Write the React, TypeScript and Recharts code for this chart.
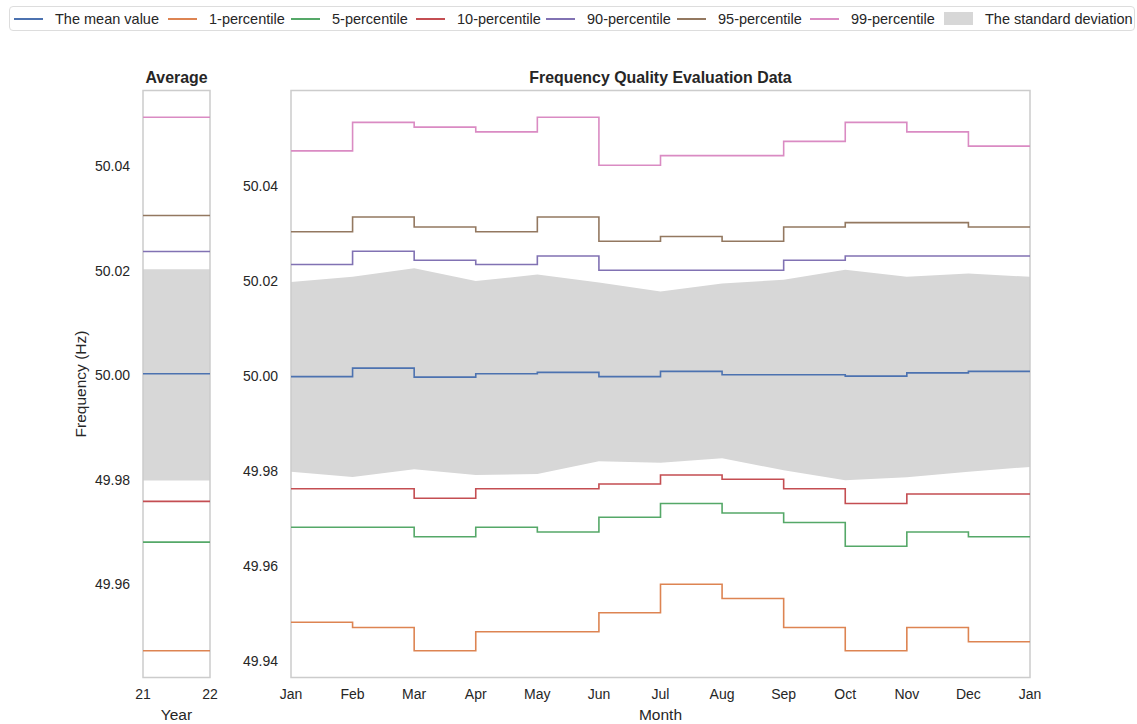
import React from 'react';
import { ComposedChart, Line, Area, XAxis, YAxis, ReferenceArea } from 'recharts';

// ---------- data ----------
const monthLabels = ['Jan', 'Feb', 'Mar', 'Apr', 'May', 'Jun', 'Jul', 'Aug', 'Sep', 'Oct', 'Nov', 'Dec', 'Jan'];
const meanValues = [49.9998, 50.0016, 49.9997, 50.0004, 50.0007, 49.9998, 50.0009, 50.0002, 50.0002, 49.9999, 50.0006, 50.0009, 50.0009];
const p1Values = [49.9481, 49.947, 49.9421, 49.9461, 49.9461, 49.9501, 49.9561, 49.9531, 49.947, 49.9421, 49.947, 49.944, 49.944];
const p5Values = [49.9681, 49.9681, 49.9661, 49.9681, 49.9671, 49.9702, 49.9731, 49.9711, 49.9691, 49.9641, 49.9671, 49.9661, 49.9661];
const p10Values = [49.9762, 49.9762, 49.9742, 49.9762, 49.9762, 49.9772, 49.9791, 49.9782, 49.9762, 49.9731, 49.9751, 49.9751, 49.9751];
const p90Values = [50.0234, 50.0262, 50.0243, 50.0234, 50.0252, 50.0222, 50.0222, 50.0222, 50.0243, 50.0252, 50.0252, 50.0252, 50.0252];
const p95Values = [50.0303, 50.0334, 50.0313, 50.0303, 50.0334, 50.0283, 50.0293, 50.0283, 50.0313, 50.0322, 50.0322, 50.0313, 50.0313];
const p99Values = [50.0473, 50.0533, 50.0523, 50.0513, 50.0544, 50.0443, 50.0463, 50.0463, 50.0493, 50.0533, 50.0513, 50.0483, 50.0483];
const stdLowValues = [49.9798, 49.9787, 49.9803, 49.9791, 49.9793, 49.982, 49.9817, 49.9826, 49.9801, 49.978, 49.9786, 49.9798, 49.9808];
const stdHighValues = [50.0197, 50.0208, 50.0226, 50.0199, 50.0213, 50.0196, 50.0177, 50.0194, 50.0202, 50.0223, 50.0208, 50.0215, 50.0208];

const yearTicks = [21, 22];
const annualMean = 50.0003;
const annualP1 = 49.9473;
const annualP5 = 49.9681;
const annualP10 = 49.9759;
const annualP90 = 50.0237;
const annualP95 = 50.0306;
const annualP99 = 50.0494;
const annualStdLow = 49.9799;
const annualStdHigh = 50.0203;

const mainYTicks = [49.94, 49.96, 49.98, 50.0, 50.02, 50.04];
const leftYTicks = [49.96, 49.98, 50.0, 50.02, 50.04];

// ---------- styling ----------
const COLORS = {
  mean: '#4C72B0',
  p1: '#DD8452',
  p5: '#55A868',
  p10: '#C44E52',
  p90: '#8172B3',
  p95: '#937860',
  p99: '#DA8BC3',
  band: '#d7d7d7',
};
const TEXT = '#262626';
const FRAME = '#cccccc';
const FONT = '"Liberation Sans", Arial, Helvetica, sans-serif';

const seriesKeys: { key: string; color: string; name: string }[] = [
  { key: 'mean', color: COLORS.mean, name: 'The mean value' },
  { key: 'p1', color: COLORS.p1, name: '1-percentile' },
  { key: 'p5', color: COLORS.p5, name: '5-percentile' },
  { key: 'p10', color: COLORS.p10, name: '10-percentile' },
  { key: 'p90', color: COLORS.p90, name: '90-percentile' },
  { key: 'p95', color: COLORS.p95, name: '95-percentile' },
  { key: 'p99', color: COLORS.p99, name: '99-percentile' },
];

const monthlyData = monthLabels.map((m, i) => ({
  idx: i,
  month: m,
  mean: meanValues[i],
  p1: p1Values[i],
  p5: p5Values[i],
  p10: p10Values[i],
  p90: p90Values[i],
  p95: p95Values[i],
  p99: p99Values[i],
  lo: stdLowValues[i],
  hi: stdHighValues[i],
}));

const annualData = yearTicks.map((y) => ({
  year: y,
  mean: annualMean,
  p1: annualP1,
  p5: annualP5,
  p10: annualP10,
  p90: annualP90,
  p95: annualP95,
  p99: annualP99,
  lo: annualStdLow,
  hi: annualStdHigh,
}));

function paddedDomain(values: number[]): [number, number] {
  const mn = Math.min(...values);
  const mx = Math.max(...values);
  const pad = (mx - mn) * 0.05;
  return [mn - pad, mx + pad];
}

const mainDomain = paddedDomain([
  ...meanValues, ...p1Values, ...p5Values, ...p10Values, ...p90Values, ...p95Values, ...p99Values,
  ...stdLowValues, ...stdHighValues,
]);
const leftDomain = paddedDomain([
  annualMean, annualP1, annualP5, annualP10, annualP90, annualP95, annualP99, annualStdLow, annualStdHigh,
]);

const tickStyle = { fill: TEXT, fontSize: 14, fontFamily: FONT };
const labelStyle = { fill: TEXT, fontSize: 15.5, fontFamily: FONT };

const legendItems = [
  ...seriesKeys.map((s) => ({ name: s.name, color: s.color, patch: false })),
  { name: 'The standard deviation', color: COLORS.band, patch: true },
];
const legendLefts = [13, 167, 290, 415, 545, 676, 809, 943];

function Legend() {
  return (
    <div
      style={{
        position: 'absolute',
        left: 9,
        top: 6,
        width: 1126,
        height: 25,
        border: '1px solid #dddddd',
        borderRadius: 4,
        boxSizing: 'border-box',
        background: '#ffffff',
      }}
    >
      {legendItems.map((it, i) => (
        <div
          key={it.name}
          style={{
            position: 'absolute',
            left: legendLefts[i] - 9,
            top: 0,
            height: 23,
            display: 'flex',
            alignItems: 'center',
            whiteSpace: 'nowrap',
          }}
        >
          {it.patch ? (
            <div style={{ width: 29, height: 13, background: it.color }} />
          ) : (
            <div style={{ width: 29, height: 2, background: it.color }} />
          )}
          <span style={{ marginLeft: 12, fontSize: 14.5, color: TEXT, fontFamily: FONT }}>{it.name}</span>
        </div>
      ))}
    </div>
  );
}

function Title({ text, left, width }: { text: string; left: number; width: number }) {
  return (
    <div
      style={{
        position: 'absolute',
        left,
        width,
        top: 68,
        height: 20,
        lineHeight: '20px',
        textAlign: 'center',
        fontWeight: 'bold',
        fontSize: 15.9,
        color: TEXT,
        fontFamily: FONT,
        whiteSpace: 'nowrap',
      }}
    >
      {text}
    </div>
  );
}

function renderLines() {
  return seriesKeys.map((s) => (
    <Line
      key={s.key}
      dataKey={s.key}
      name={s.name}
      type="stepAfter"
      stroke={s.color}
      strokeWidth={1.6}
      dot={false}
      activeDot={false}
      isAnimationActive={false}
    />
  ));
}

export default function App() {
  return (
    <div
      style={{
        position: 'absolute',
        left: 0,
        top: 0,
        width: 1137,
        height: 724,
        background: '#ffffff',
        fontFamily: FONT,
        overflow: 'hidden',
      }}
    >
      <Legend />
      <Title text="Average" left={143} width={67} />
      <Title text="Frequency Quality Evaluation Data" left={291} width={739} />

      {/* Left: annual average */}
      <div style={{ position: 'absolute', left: 60, top: 60 }}>
        <ComposedChart
          width={160}
          height={664}
          data={annualData}
          margin={{ top: 30.5, right: 10, bottom: 0, left: 0 }}
          style={{ fontFamily: FONT }}
        >
          <XAxis
            dataKey="year"
            type="number"
            domain={[21, 22]}
            ticks={yearTicks}
            allowDataOverflow
            interval={0}
            axisLine={false}
            tickLine={false}
            tickSize={0}
            tickMargin={12}
            height={46.5}
            tick={tickStyle}
            label={{ value: 'Year', position: 'insideBottom', offset: 4, ...labelStyle }}
          />
          <YAxis
            type="number"
            domain={leftDomain}
            ticks={leftYTicks}
            allowDataOverflow
            interval={0}
            axisLine={false}
            tickLine={false}
            tickSize={0}
            tickMargin={13}
            width={83}
            tick={tickStyle}
            tickFormatter={(v: number) => v.toFixed(2)}
            label={{
              value: 'Frequency (Hz)',
              angle: -90,
              position: 'insideLeft',
              offset: 20,
              style: { textAnchor: 'middle' },
              ...labelStyle,
            }}
          />
          <Area
            dataKey={(d: any) => [d.lo, d.hi]}
            type="linear"
            stroke="none"
            fill={COLORS.band}
            fillOpacity={1}
            isAnimationActive={false}
            activeDot={false}
          />
          <ReferenceArea
            x1={21}
            x2={22}
            y1={leftDomain[0]}
            y2={leftDomain[1]}
            fill="none"
            fillOpacity={0}
            stroke={FRAME}
            strokeWidth={1.5}
            ifOverflow="visible"
          />
          {seriesKeys.map((s) => (
            <Line
              key={s.key}
              dataKey={s.key}
              type="linear"
              stroke={s.color}
              strokeWidth={1.6}
              dot={false}
              activeDot={false}
              isAnimationActive={false}
            />
          ))}
        </ComposedChart>
      </div>

      {/* Right: monthly data */}
      <div style={{ position: 'absolute', left: 200, top: 60 }}>
        <ComposedChart
          width={850}
          height={664}
          data={monthlyData}
          margin={{ top: 30.5, right: 20, bottom: 0, left: 0 }}
          style={{ fontFamily: FONT }}
        >
          <XAxis
            dataKey="idx"
            type="number"
            domain={[0, 12]}
            ticks={monthLabels.map((_, i) => i)}
            allowDataOverflow
            interval={0}
            axisLine={false}
            tickLine={false}
            tickSize={0}
            tickMargin={12}
            height={46.5}
            tick={tickStyle}
            tickFormatter={(v: number) => monthLabels[v]}
            label={{ value: 'Month', position: 'insideBottom', offset: 4, ...labelStyle }}
          />
          <YAxis
            type="number"
            domain={mainDomain}
            ticks={mainYTicks}
            allowDataOverflow
            interval={0}
            axisLine={false}
            tickLine={false}
            tickSize={0}
            tickMargin={13}
            width={91}
            tick={tickStyle}
            tickFormatter={(v: number) => v.toFixed(2)}
          />
          <Area
            dataKey={(d: any) => [d.lo, d.hi]}
            type="linear"
            stroke="none"
            fill={COLORS.band}
            fillOpacity={1}
            isAnimationActive={false}
            activeDot={false}
          />
          <ReferenceArea
            x1={0}
            x2={12}
            y1={mainDomain[0]}
            y2={mainDomain[1]}
            fill="none"
            fillOpacity={0}
            stroke={FRAME}
            strokeWidth={1.5}
            ifOverflow="visible"
          />
          {renderLines()}
        </ComposedChart>
      </div>
    </div>
  );
}
